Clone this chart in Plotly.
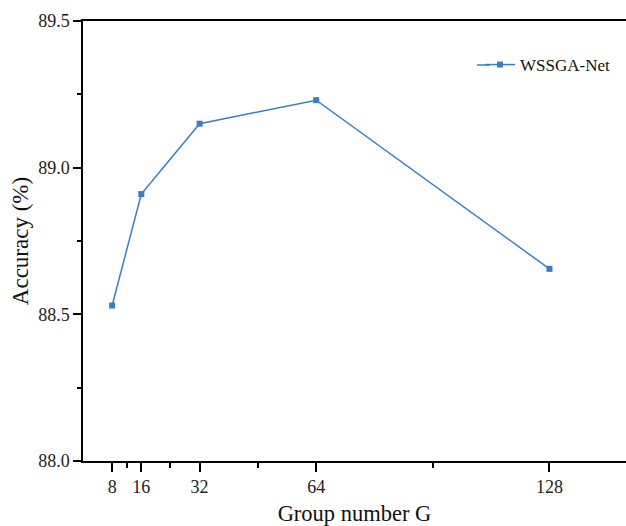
import plotly.graph_objects as go

groups = [8, 16, 32, 64, 128]
accuracy = [88.53, 88.91, 89.15, 89.23, 88.655]
x_major = [8, 16, 32, 64, 128]
x_minor = [12, 24, 48, 96]
y_major = [88.0, 88.5, 89.0, 89.5]
series_name = "WSSGA-Net"

FONT = "Liberation Serif, Times New Roman, serif"
BLUE = "#3b7ec0"

fig = go.Figure()
fig.add_trace(go.Scatter(
    x=groups, y=accuracy, mode="lines+markers", name=series_name,
    line=dict(color=BLUE, width=1.5),
    marker=dict(symbol="square", size=6, color=BLUE),
))

LEG_Y = 0.9
# extend the legend line sample slightly to the left (sample is longer in the original)
fig.add_shape(type="line", xref="paper", yref="paper",
              x0=(477 - 83) / 543, x1=(490 - 83) / 543,
              y0=LEG_Y, y1=LEG_Y,
              line=dict(color=BLUE, width=1.5))

fig.update_layout(
    width=626, height=526,
    margin=dict(l=83, r=0, t=21, b=65),
    plot_bgcolor="white", paper_bgcolor="white",
    font=dict(family=FONT, size=18, color="#222"),
    showlegend=True,
    legend=dict(x=(480 - 83) / 543, y=LEG_Y, xanchor="left", yanchor="middle",
                font=dict(size=17, family=FONT, color="#111"),
                bgcolor="rgba(0,0,0,0)", itemwidth=30),
    xaxis=dict(
        range=[0, 149], tickvals=x_major, ticktext=[str(v) for v in x_major],
        showline=True, linecolor="black", linewidth=1.5, mirror=True,
        ticks="outside", ticklen=9, tickwidth=1.5, tickcolor="black",
        showgrid=False, zeroline=False, automargin=False,
        minor=dict(tickvals=x_minor, ticks="outside", ticklen=5, tickwidth=1.5, tickcolor="black"),
        title=dict(text="Group number G", font=dict(size=22.5, family=FONT, color="#111"), standoff=30),
        tickfont=dict(size=18, family=FONT),
    ),
    yaxis=dict(
        range=[88.0, 89.5], tickvals=y_major, ticktext=[f"{v:.1f}" for v in y_major],
        showline=True, linecolor="black", linewidth=1.5, mirror=False,
        ticks="outside", ticklen=8, tickwidth=1.5, tickcolor="black",
        showgrid=False, zeroline=False, automargin=False,
        minor=dict(dtick=0.25, tick0=88.0, ticks="outside", ticklen=4, tickwidth=1.5, tickcolor="black"),
        title=dict(text="Accuracy (%)", font=dict(size=23, family=FONT, color="#111"), standoff=3),
        tickfont=dict(size=18, family=FONT),
    ),
)

fig.write_html("out.html")
